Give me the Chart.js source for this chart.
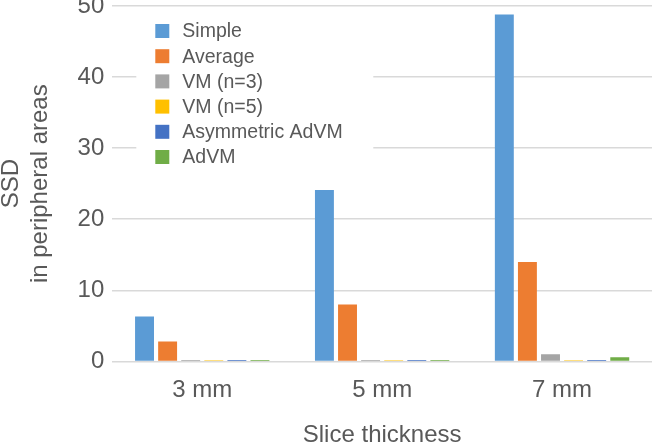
<!DOCTYPE html>
<html>
<head>
<meta charset="utf-8">
<script src="https://cdn.jsdelivr.net/npm/chart.js@4"></script>
<style>
  html, body { margin: 0; padding: 0; background: #fff; overflow: hidden; }
  #wrap { width: 653px; height: 452px; margin-top: -8px; }
</style>
</head>
<body>
<div id="wrap"><canvas id="chart-ssd"></canvas></div>
<script>
var categories = ['3 mm', '5 mm', '7 mm'];
var seriesNames = ['Simple', 'Average', 'VM (n=3)', 'VM (n=5)', 'Asymmetric AdVM', 'AdVM'];
var simple = [6.3, 24.1, 48.8];
var average = [2.8, 8.0, 14.0];
var vm3 = [0.2, 0.2, 1.0];
var vm5 = [0.15, 0.15, 0.15];
var asymAdvm = [0.2, 0.2, 0.2];
var advm = [0.2, 0.2, 0.6];
var colors = ['#5B9BD5', '#ED7D31', '#A5A5A5', '#FFC000', '#4472C4', '#70AD47'];

var allSeries = [simple, average, vm3, vm5, asymAdvm, advm];
var font = 'Liberation Sans, Arial, sans-serif';

// legend drawn inside the plot, top left, white box behind it
var innerLegend = {
    id: 'innerLegend',
    afterDatasetsDraw: function(chart) {
        var ctx = chart.ctx;
        var x = chart.chartArea.left + 43;
        var y = chart.chartArea.top + 25;
        var step = 25.2;
        ctx.save();
        ctx.fillStyle = '#fff';
        ctx.fillRect(x - 19, y - 14, 237, step * 6 + 8);
        ctx.font = '19.5px ' + font;
        ctx.textBaseline = 'middle';
        chart.data.datasets.forEach(function(ds, i) {
            var cy = y + i * step;
            ctx.fillStyle = ds.backgroundColor;
            ctx.fillRect(x, cy - 7, 14, 14);
            ctx.fillStyle = '#595959';
            ctx.fillText(ds.label, x + 27, cy + 1);
        });
        ctx.restore();
    }
};

var ctx = document.getElementById('chart-ssd').getContext('2d');

var myChart = new Chart(ctx, {
    type: 'bar',
    data: {
        labels: categories,
        datasets: allSeries.map(function(vals, i) {
            return {
                label: seriesNames[i],
                data: vals,
                backgroundColor: colors[i],
                categoryPercentage: 0.77,
                barPercentage: 0.82
            };
        })
    },
    options: {
        responsive: true,
        maintainAspectRatio: false,
        animation: false,
        layout: { padding: { top: 0, right: 1, bottom: 0, left: 0 } },
        plugins: {
            legend: { display: false },
            tooltip: { enabled: false }
        },
        scales: {
            x: {
                grid: { display: false, drawTicks: false },
                border: { display: false },
                ticks: { color: '#595959', font: { family: font, size: 24 }, padding: 15 },
                title: {
                    display: true,
                    text: 'Slice thickness',
                    color: '#595959',
                    font: { family: font, size: 24, lineHeight: 0.7 },
                    padding: { top: 7, bottom: 0 }
                }
            },
            y: {
                min: 0,
                max: 50,
                ticks: { stepSize: 10, color: '#595959', font: { family: font, size: 24, lineHeight: 0.5 }, padding: 8 },
                grid: { color: '#d9d9d9', lineWidth: 1.5, drawTicks: false },
                border: { display: false },
                title: {
                    display: true,
                    text: ['SSD', 'in peripheral areas'],
                    color: '#595959',
                    font: { family: font, size: 24, lineHeight: 1.2 },
                    padding: { top: -3, bottom: 15 }
                }
            }
        }
    },
    plugins: [innerLegend]
});
</script>
</body>
</html>
